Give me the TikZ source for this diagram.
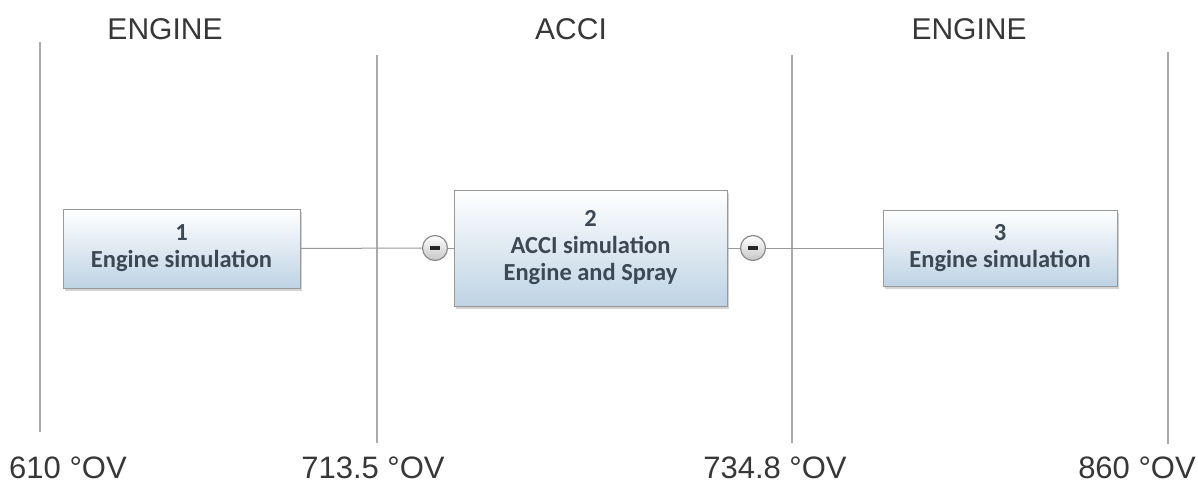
\documentclass[tikz,border=0pt]{standalone}
\usepackage{fontspec}
\setmainfont{Liberation Sans}
\newfontfamily\boxfont{Carlito}
\usetikzlibrary{shadows}
\definecolor{boxblue}{RGB}{190,211,228}
\definecolor{boxtext}{RGB}{60,72,84}
\definecolor{rulegray}{RGB}{170,170,170}
\definecolor{labgray}{RGB}{55,55,55}
\tikzset{
  simbox/.style={draw=rulegray!90!black, line width=1pt, top color=white, bottom color=boxblue,
    align=center, font=\boxfont\bfseries\fontsize{24.5}{27}\selectfont, text=boxtext,
    inner sep=0pt, drop shadow={shadow xshift=2pt, shadow yshift=-3pt, opacity=0.35}},
  phaseline/.style={draw=rulegray, line width=2pt},
  conn/.style={draw=gray!80, line width=1pt},
  toplab/.style={font=\fontsize{30}{32}\selectfont, text=labgray, anchor=base, inner sep=0pt},
  botlab/.style={font=\fontsize{31}{33}\selectfont, text=labgray, anchor=base, inner sep=0pt},
  minusc/.style={circle, draw=gray!90, line width=1.2pt, minimum size=25pt, inner sep=0pt,
    top color=white, bottom color=gray!45,
    path picture={\fill[black!85] ([xshift=-5pt,yshift=-2pt]path picture bounding box.center) rectangle ([xshift=5pt,yshift=2pt]path picture bounding box.center);}}
}
\begin{document}
\begin{tikzpicture}[x=1pt,y=-1pt]
\useasboundingbox (0,0) rectangle (1198,484);
% vertical phase lines
\coordinate (l1t) at (40,42); \coordinate (l1b) at (40,432);
\coordinate (l2t) at (377,55); \coordinate (l2b) at (377,443);
\coordinate (l3t) at (792,55); \coordinate (l3b) at (792,443);
\coordinate (l4t) at (1168,52); \coordinate (l4b) at (1168,444);
\draw[phaseline] (l1t) -- (l1b);
\draw[phaseline] (l2t) -- (l2b);
\draw[phaseline] (l3t) -- (l3b);
\draw[phaseline] (l4t) -- (l4b);
% top labels
\node[toplab] (t1) at (165,40) {ENGINE};
\node[toplab] (t2) at (571,40) {ACCI};
\node[toplab] (t3) at (969,40) {ENGINE};
% bottom labels
\node[botlab] (b1) at (68,478) {610 °OV};
\node[botlab] (b2) at (373,478) {713.5 °OV};
\node[botlab] (b3) at (775,478) {734.8 °OV};
\node[botlab] (b4) at (1137,478) {860 °OV};
% boxes
\node[simbox, minimum width=237pt, minimum height=79pt] (box1) at (181.5,248.5) {1\\Engine simulation};
\node[simbox, minimum width=273pt, minimum height=116pt] (box2) at (590.5,248) {2\\ACCI simulation\\Engine and Spray};
\node[simbox, minimum width=234pt, minimum height=76pt] (box3) at (1000,248) {3\\Engine simulation};
% connector circles
\node[minusc] (c1) at (435,248) {};
\node[minusc] (c2) at (753,248) {};
\draw[conn] (box1.east) -- (c1.west);
\draw[conn] (c1.east) -- (box2.west);
\draw[conn] (box2.east) -- (c2.west);
\draw[conn] (c2.east) -- (box3.west);
\end{tikzpicture}
\end{document}
